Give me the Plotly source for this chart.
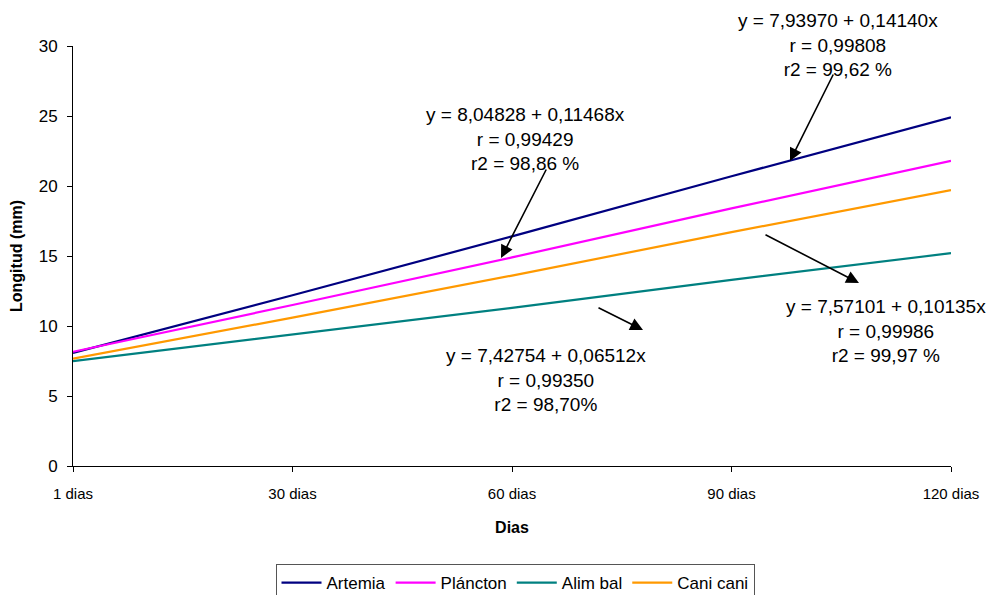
import plotly.graph_objects as go

# Data
dias = ["1 dias", "30 dias", "60 dias", "90 dias", "120 dias"]
artemia = [8.08, 12.2, 16.4, 20.7, 24.9]
plancton = [8.16, 11.5, 14.9, 18.4, 21.8]
alim_bal = [7.49, 9.4, 11.3, 13.3, 15.2]
cani_cani = [7.67, 10.6, 13.6, 16.7, 19.7]

series_names = ["Artemia", "Plancton".replace("a", "á", 1), "Alim bal", "Cani cani"]
series_values = [artemia, plancton, alim_bal, cani_cani]
series_colors = ["#000080", "#FF00FF", "#008080", "#FF9900"]

eq_texts = [
    "y = 7,93970 + 0,14140x<br>r = 0,99808<br>r2 = 99,62 %",
    "y = 8,04828 + 0,11468x<br>r = 0,99429<br>r2 = 98,86 %",
    "y = 7,42754 + 0,06512x<br>r = 0,99350<br>r2 = 98,70%",
    "y = 7,57101 + 0,10135x<br>r = 0,99986<br>r2 = 99,97 %",
]

FONT = "Liberation Sans, Arial, sans-serif"

fig = go.Figure()
for name, vals, col in zip(series_names, series_values, series_colors):
    fig.add_trace(go.Scatter(x=dias, y=vals, mode="lines", name=name,
                             line=dict(color=col, width=2.2)))

# the page body adds an 8px offset; work in screen pixels and subtract it
OFF = 8
W, H = 1003 - OFF, 595 - OFF
L, R, T, B = 73, 951, 46, 466          # plot area in screen pixels
def px(xp):
    return (xp - L) / (R - L)
def py(yp):
    return (B - yp) / (B - T)

# text annotations (center x, center y in screen pixels)
text_pos = [(838, 45), (525, 139), (546, 380), (886, 331)]
for txt, (cx, cy) in zip(eq_texts, text_pos):
    fig.add_annotation(text=txt, x=px(cx), y=py(cy), xref="paper", yref="paper",
                       showarrow=False, xanchor="center", yanchor="middle",
                       font=dict(family=FONT, size=19, color="#000000"), align="center")

# arrows: head (x,y) and tail (tx,ty) in screen pixels
arrows = [((790, 161), (834, 73)), ((501, 258), (547, 168)),
          ((643, 330), (597, 307)), ((859, 283), (764, 234))]
for (hx, hy), (tx, ty) in arrows:
    fig.add_annotation(text="", x=px(hx), y=py(hy), xref="paper", yref="paper",
                       ax=tx - hx, ay=ty - hy, showarrow=True,
                       arrowhead=2, arrowsize=1.6, arrowwidth=1.6, arrowcolor="#000000")

fig.update_layout(
    width=W, height=H,
    margin=dict(l=L - OFF, r=1003 - R, t=T - OFF, b=595 - B, autoexpand=False),
    paper_bgcolor="white", plot_bgcolor="white",
    font=dict(family=FONT, color="#000000"),
    showlegend=True,
    legend=dict(orientation="h", xref="container", yref="container",
                x=(515 - OFF) / W, xanchor="center", y=1 - (564 - OFF) / H, yanchor="top",
                bordercolor="#555555", borderwidth=1, font=dict(size=17, family=FONT),
                itemwidth=40, tracegroupgap=0, bgcolor="white"),
    xaxis=dict(range=[0, 4], showline=True, linecolor="#000000", linewidth=1,
               ticks="outside", ticklen=5, tickcolor="#000000", showgrid=False,
               zeroline=False, tickfont=dict(size=15, family=FONT), automargin=False,
               ticklabelstandoff=9,
               title=dict(text="<b>Dias</b>", font=dict(size=16, family=FONT), standoff=20)),
    yaxis=dict(range=[0, 30], dtick=5, showline=True, linecolor="#000000", linewidth=1,
               ticks="outside", ticklen=5, tickcolor="#000000", showgrid=False,
               zeroline=False, tickfont=dict(size=17, family=FONT), automargin=False,
               ticklabelstandoff=6,
               title=dict(text="<b>Longitud (mm)</b>", font=dict(size=16, family=FONT), standoff=14)),
)

fig.write_html("out.html")
